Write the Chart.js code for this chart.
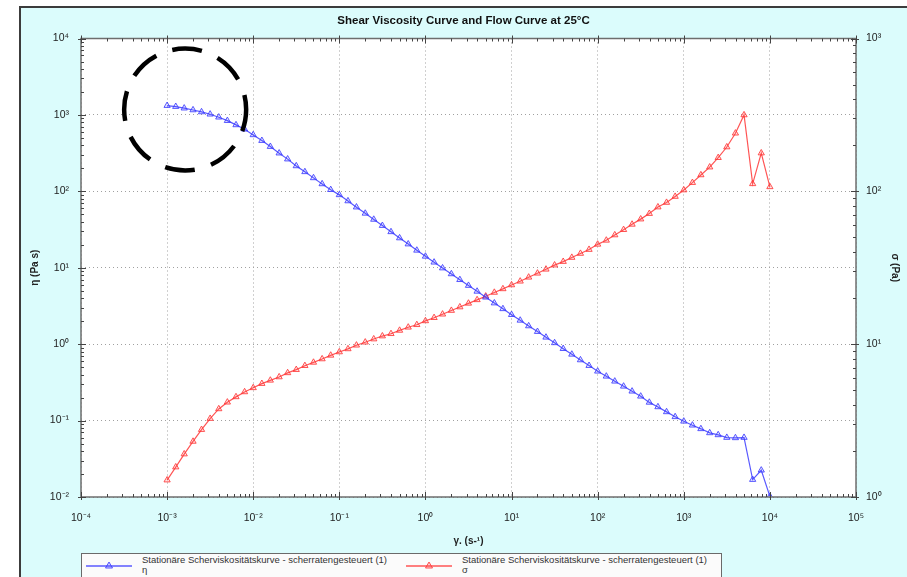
<!DOCTYPE html>
<html>
<head>
<meta charset="utf-8">
<script src="https://cdn.jsdelivr.net/npm/chart.js@4"></script>
<style>
  html, body { margin: 0; padding: 0; background: #fff; }
  #wrap { position: relative; width: 907px; height: 577px; overflow: hidden; }
  #panel { position: absolute; left: 19px; top: 6px; right: 0; bottom: 0; background: #dbfcfc;
           border-left: 2px solid #3c3c3c; border-top: 2px solid #3c3c3c; }
  #chart { position: absolute; left: 0; top: 0; }
  #legend { position: absolute; left: 81px; top: 553px; width: 639px; height: 23px;
            border: 1.5px solid #6a6a6a; background: #fbfbfb;
            font-family: "Liberation Sans", Arial, sans-serif; font-size: 9.5px; color: #333; }
  .item { position: absolute; top: 0; height: 23px; }
  .item svg { position: absolute; left: 0; top: 6px; }
  .item .txt { position: absolute; left: 56px; top: 1px; line-height: 10px; white-space: nowrap; }
</style>
</head>
<body>
<div id="wrap">
  <div id="panel"></div>
  <canvas id="chart" width="907" height="577"></canvas>
  <div id="legend"></div>
</div>
<script>
(function(){
  'use strict';

  // shear rate (1/s)
  const shearRate = [
    0.001, 0.00126, 0.00158, 0.002, 0.00251, 0.00316, 0.00398, 0.00501, 0.00631, 0.00794,
    0.01, 0.0126, 0.0158, 0.02, 0.0251, 0.0316, 0.0398, 0.0501, 0.0631, 0.0794,
    0.1, 0.126, 0.158, 0.2, 0.251, 0.316, 0.398, 0.501, 0.631, 0.794,
    1, 1.26, 1.58, 2, 2.51, 3.16, 3.98, 5.01, 6.31, 7.94,
    10, 12.6, 15.8, 20, 25.1, 31.6, 39.8, 50.1, 63.1, 79.4,
    100, 126, 158, 200, 251, 316, 398, 501, 631, 794,
    1000, 1260, 1580, 2000, 2510, 3160, 3980, 5010, 6310, 7940,
    10000
  ];
  // viscosity eta (Pa s), left axis
  const viscosity = [
    1324, 1285, 1225, 1161, 1094, 1021, 933, 841, 740, 650,
    548, 461, 385, 316, 264, 215, 180, 150, 125, 105,
    89.9, 74.8, 62.1, 51.5, 42.9, 35.6, 29.5, 24.5, 20.4, 16.9,
    14.1, 11.8, 9.91, 8.30, 6.97, 5.85, 4.91, 4.11, 3.45, 2.90,
    2.43, 2.05, 1.73, 1.46, 1.23, 1.04, 0.873, 0.736, 0.621, 0.524,
    0.442, 0.380, 0.327, 0.281, 0.242, 0.208, 0.173, 0.151, 0.130, 0.112,
    0.0979, 0.0869, 0.0780, 0.0690, 0.0650, 0.0600, 0.0594, 0.0600, 0.0169, 0.0224,
    0.0102
  ];
  // shear stress sigma (Pa), right axis
  const stress = [
    1.29, 1.57, 1.91, 2.31, 2.76, 3.26, 3.77, 4.17, 4.52, 4.87,
    5.18, 5.52, 5.80, 6.10, 6.49, 6.81, 7.23, 7.60, 8.00, 8.45,
    8.89, 9.31, 9.84, 10.3, 10.8, 11.3, 11.7, 12.3, 12.9, 13.4,
    14.2, 14.9, 15.7, 16.6, 17.5, 18.5, 19.5, 20.6, 21.8, 23.0,
    24.4, 25.8, 27.4, 29.1, 30.9, 32.9, 34.7, 36.9, 39.2, 41.6,
    45.0, 47.8, 51.8, 56.1, 60.8, 65.8, 71.5, 78.9, 84.5, 92.5,
    102, 114, 128, 144, 166, 195, 240, 316, 112, 178,
    107
  ];

  const xDecades = [-4, -3, -2, -1, 0, 1, 2, 3, 4, 5];
  const yDecades = [-2, -1, 0, 1, 2, 3, 4];
  const y1Decades = [0, 1, 2, 3];

  const seriesNames = ['Stationäre Scherviskositätskurve - scherratengesteuert (1)',
                       'Stationäre Scherviskositätskurve - scherratengesteuert (1)'];
  const seriesSymbols = ['η', 'σ'];
  const blue = 'rgba(60,60,255,0.85)';
  const red = 'rgba(255,55,55,0.85)';

  // annotation: dashed circle around the low-shear plateau
  const circleCenter = [0.00162, 1175];

  const supMap = {'-': '⁻', '0': '⁰', '1': '¹', '2': '²', '3': '³', '4': '⁴', '5': '⁵', '6': '⁶', '7': '⁷', '8': '⁸', '9': '⁹'};
  function sup(n){ return String(n).split('').map(c => supMap[c]).join(''); }

  function logTicks(decades){
    let out = [];
    for (let i = 0; i < decades.length; i++){
      const d = decades[i];
      out.push({value: Math.pow(10, d), major: true});
      if (i < decades.length - 1){
        for (let m = 2; m < 10; m++) out.push({value: m * Math.pow(10, d), major: false});
      }
    }
    return out;
  }

  function labelCb(value, index, ticks){
    const t = ticks[index];
    return t.major ? '10' + sup(Math.round(Math.log10(t.value))) : '';
  }

  const tickFont = {family: '"Liberation Sans", Arial, sans-serif', size: 10.5};
  const gridColor = c => (c.tick && c.tick.major) ? '#a0a0a0' : 'rgba(0,0,0,0)';

  const panelPlugin = {
    id: 'panel',
    beforeDraw(chart){
      const a = chart.chartArea, ctx = chart.ctx;
      ctx.save();
      ctx.fillStyle = '#fff';
      ctx.fillRect(a.left, a.top, a.right - a.left, a.bottom - a.top);
      ctx.restore();
    },
    afterDraw(chart){
      const a = chart.chartArea, ctx = chart.ctx;
      ctx.save();
      ctx.strokeStyle = '#6e6e6e';
      ctx.lineWidth = 1.5;
      ctx.strokeRect(a.left, a.top, a.right - a.left, a.bottom - a.top);
      ctx.lineWidth = 1;
      ctx.strokeStyle = '#444';
      ctx.beginPath();
      chart.scales.x.ticks.forEach(t => {
        const p = Math.round(chart.scales.x.getPixelForValue(t.value)) + 0.5;
        const l = t.major ? 5 : 3;
        ctx.moveTo(p, a.bottom + (t.major ? 3 : 0)); ctx.lineTo(p, a.bottom - l);
        ctx.moveTo(p, a.top - (t.major ? 3 : 0)); ctx.lineTo(p, a.top + l);
      });
      chart.scales.y.ticks.forEach(t => {
        const p = Math.round(chart.scales.y.getPixelForValue(t.value)) + 0.5;
        const l = t.major ? 5 : 3;
        ctx.moveTo(a.left - (t.major ? 3 : 0), p); ctx.lineTo(a.left + l, p);
      });
      chart.scales.y1.ticks.forEach(t => {
        const p = Math.round(chart.scales.y1.getPixelForValue(t.value)) + 0.5;
        const l = t.major ? 5 : 3;
        ctx.moveTo(a.right + (t.major ? 3 : 0), p); ctx.lineTo(a.right - l, p);
      });
      ctx.stroke();

      // dashed circle
      const cx = chart.scales.x.getPixelForValue(circleCenter[0]);
      const cy = chart.scales.y.getPixelForValue(circleCenter[1]);
      ctx.strokeStyle = '#000';
      ctx.lineWidth = 4.5;
      ctx.setLineDash([30, 17]);
      ctx.lineDashOffset = 8;
      ctx.beginPath();
      ctx.arc(cx, cy, 61, 0, Math.PI * 2);
      ctx.stroke();
      ctx.restore();
    }
  };

  const ds = (vals, color, axis, label) => ({
    label: label,
    data: shearRate.map((x, i) => ({x: x, y: vals[i]})),
    yAxisID: axis,
    borderColor: color,
    backgroundColor: color.replace('0.85', '0.12'),
    borderWidth: 1.2,
    pointStyle: 'triangle',
    pointRadius: 3.6,
    pointBorderWidth: 1,
    pointBorderColor: color,
    pointBackgroundColor: color.replace('0.85', '0.12'),
    tension: 0
  });

  new Chart(document.getElementById('chart'), {
    type: 'line',
    data: {
      datasets: [
        ds(viscosity, blue, 'y', seriesSymbols[0]),
        ds(stress, red, 'y1', seriesSymbols[1])
      ]
    },
    options: {
      responsive: false,
      animation: false,
      layout: {padding: {left: 20, right: 0, top: 7, bottom: 27}},
      plugins: {
        legend: {display: false},
        tooltip: {enabled: false},
        title: {
          display: true,
          text: 'Shear Viscosity Curve and Flow Curve at 25°C',
          color: '#111',
          font: {family: '"Liberation Sans", Arial, sans-serif', size: 11.5, weight: 'bold'},
          padding: {top: 7, bottom: 10.7}
        }
      },
      scales: {
        x: {
          type: 'logarithmic',
          min: 1e-4, max: 1e5,
          afterBuildTicks: s => { s.ticks = logTicks(xDecades); },
          afterFit: s => { s.height = 53; },
          ticks: {autoSkip: false, maxRotation: 0, padding: 15, color: '#222', font: tickFont, callback: labelCb},
          grid: {color: gridColor, lineWidth: 1, drawTicks: false},
          border: {display: false, dash: [1, 3]},
          title: {display: true, text: 'γ. (s-¹)', color: '#222',
                  font: {family: '"Liberation Sans", Arial, sans-serif', size: 10, weight: 'bold'},
                  padding: {top: 0, bottom: 3}}
        },
        y: {
          type: 'logarithmic',
          position: 'left',
          min: 1e-2, max: 1e4,
          afterBuildTicks: s => { s.ticks = logTicks(yDecades); },
          afterFit: s => { s.width = 61; },
          ticks: {autoSkip: false, padding: 12, color: '#222', font: tickFont, callback: labelCb},
          grid: {color: gridColor, lineWidth: 1, drawTicks: false},
          border: {display: false, dash: [1, 3]},
          title: {display: true, text: 'η (Pa s)', color: '#222',
                  font: {family: '"Liberation Sans", Arial, sans-serif', size: 10, weight: 'bold'},
                  padding: {top: 9, bottom: 0}}
        },
        y1: {
          type: 'logarithmic',
          position: 'right',
          min: 1, max: 1e3,
          afterBuildTicks: s => { s.ticks = logTicks(y1Decades); },
          afterFit: s => { s.width = 51; },
          ticks: {autoSkip: false, padding: 10, color: '#222', font: tickFont, callback: labelCb},
          grid: {drawOnChartArea: false, drawTicks: false},
          border: {display: false},
          title: {display: true, text: 'σ (Pa)', color: '#222',
                  font: {family: '"Liberation Sans", Arial, sans-serif', size: 10, weight: 'bold'},
                  padding: {top: 6, bottom: 0}}
        }
      }
    },
    plugins: [panelPlugin]
  });

  // legend
  const legend = document.getElementById('legend');
  const colors = [blue, red];
  const lefts = [4, 324];
  for (let i = 0; i < 2; i++){
    const item = document.createElement('div');
    item.className = 'item';
    item.style.left = lefts[i] + 'px';
    item.innerHTML =
      '<svg width="50" height="12"><line x1="0" y1="6" x2="46" y2="6" stroke="' + colors[i] + '" stroke-width="1.5"/>' +
      '<polygon points="23,2 19.5,8 26.5,8" fill="' + colors[i].replace('0.85', '0.2') + '" stroke="' + colors[i] + '" stroke-width="1"/></svg>';
    const txt = document.createElement('div');
    txt.className = 'txt';
    txt.textContent = seriesNames[i];
    txt.appendChild(document.createElement('br'));
    txt.appendChild(document.createTextNode(seriesSymbols[i]));
    item.appendChild(txt);
    legend.appendChild(item);
  }
})();
</script>
</body>
</html>
